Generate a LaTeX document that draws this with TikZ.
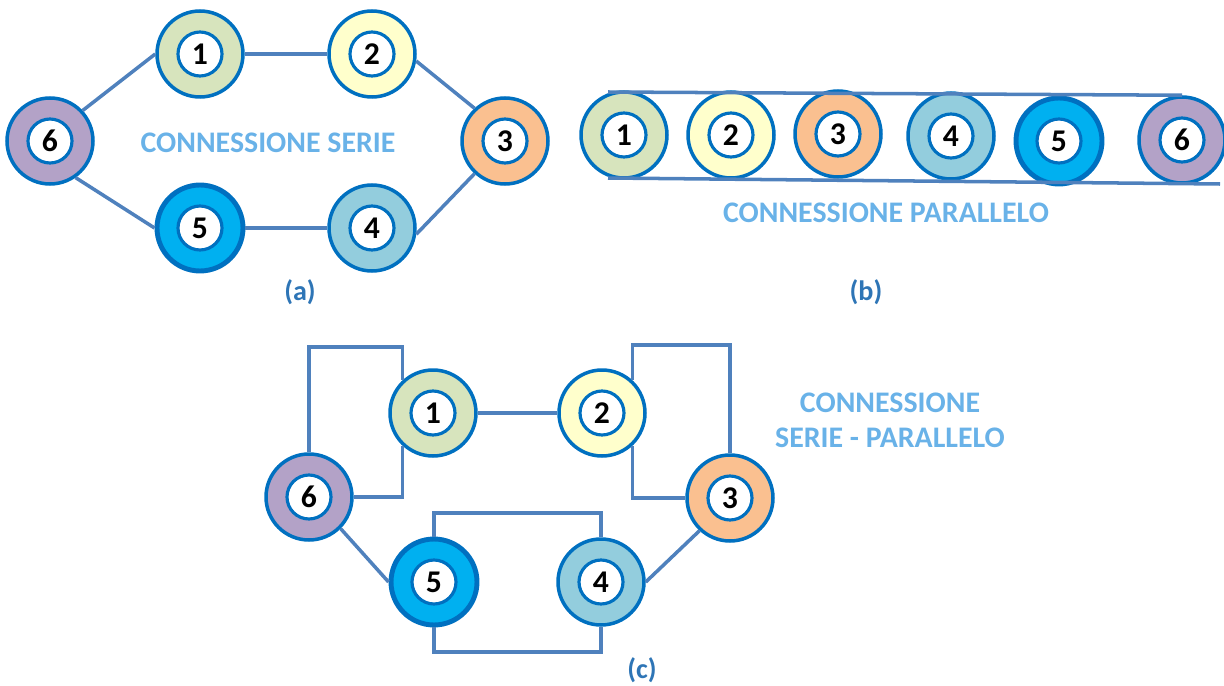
\documentclass[tikz,border=0pt]{standalone}
\usepackage{fontspec}
\setmainfont{Carlito}
\definecolor{ringblue}{RGB}{0,112,192}
\definecolor{wireblue}{RGB}{79,129,189}
\definecolor{labblue}{RGB}{46,117,182}
\definecolor{titleblue}{RGB}{105,178,232}
\definecolor{fone}{RGB}{215,228,189}
\definecolor{ftwo}{RGB}{255,255,204}
\definecolor{fthree}{RGB}{250,192,144}
\definecolor{ffour}{RGB}{147,205,221}
\definecolor{ffive}{RGB}{0,176,240}
\definecolor{fsix}{RGB}{179,162,199}
\tikzset{
  ring/.style={circle, draw=ringblue, line width=2pt, minimum size=1.72cm, inner sep=0pt},
  thickring/.style={line width=2.8pt},
  hub/.style={circle, draw=ringblue, fill=white, line width=1.8pt, minimum size=0.88cm, inner sep=0pt,
    font=\bfseries\fontsize{18}{18}\selectfont},
  wire/.style={draw=wireblue, line width=2pt},
  sublabel/.style={font=\bfseries\fontsize{16}{16}\selectfont, text=labblue},
  title/.style={font=\bfseries\fontsize{17}{20}\selectfont, text=titleblue, align=center}
}
\newcommand{\ringnode}[5][]{%
  \node[ring, fill=#4, #1] (#2) at (#3) {};
  \node[hub] (#2i) at (#3) {#5};}
\begin{document}
\begin{tikzpicture}[x=0.02cm, y=-0.02cm]
\useasboundingbox (0,0) rectangle (1224,686);
% ---------- (a) ----------
\ringnode{a1}{200,54}{fone}{1}
\ringnode{a2}{372,54}{ftwo}{2}
\ringnode{a3}{505,141}{fthree}{3}
\ringnode{a4}{372,228}{ffour}{4}
\ringnode[thickring]{a5}{200,228}{ffive}{5}
\ringnode{a6}{50,141}{fsix}{6}
\draw[wire] (a6.43) -- (a1.west);
\draw[wire] (a1.east) -- (a2.west);
\draw[wire] (a2.-9) -- (a3.133);
\draw[wire] (a3.227) -- (a4.-8);
\draw[wire] (a5.east) -- (a4.west);
\draw[wire] (a6.-55) -- (a5.west);
\node[title] (ta) at (268,143) {CONNESSIONE SERIE};
\node[sublabel] (la) at (300,292) {(a)};
% ---------- (b) ----------
\ringnode{b1}{624,135}{fone}{1}
\ringnode{b2}{731,135}{ftwo}{2}
\ringnode{b3}{838,134}{fthree}{3}
\ringnode{b4}{951,136}{ffour}{4}
\ringnode[thickring]{b5}{1059,141}{ffive}{5}
\ringnode{b6}{1182,140}{fsix}{6}
\coordinate (btl) at (608,92);
\coordinate (bbl) at (608,178);
\coordinate (bbr) at (1220,184);
\draw[wire] (btl) -- (b6.north);
\draw[wire] (bbl) -- (bbr);
\node[title] (tb) at (886,213) {CONNESSIONE PARALLELO};
\node[sublabel] (lb) at (866,292) {(b)};
% ---------- (c) ----------
\ringnode{c1}{433,413}{fone}{1}
\ringnode{c2}{602,413}{ftwo}{2}
\ringnode{c3}{730,498}{fthree}{3}
\ringnode{c4}{601,582}{ffour}{4}
\ringnode[thickring]{c5}{434,582}{ffive}{5}
\ringnode{c6}{309,497}{fsix}{6}
\coordinate (t61) at (0,347);
\coordinate (t23) at (0,345);
\coordinate (t54) at (0,513);
\coordinate (b54) at (0,652);
\draw[wire] (c6.north) |- (c1.133 |- t61) -- (c1.133);
\draw[wire] (c1.227) |- (c6.east);
\draw[wire] (c1.east) -- (c2.west);
\draw[wire] (c2.47) -- (c2.47 |- t23) -| (c3.north);
\draw[wire] (c2.313) |- (c3.west);
\draw[wire] (c3.227) -- (c4.east);
\draw[wire] (c5.north) -- (c5.north |- t54) -| (c4.north);
\draw[wire] (c5.south) -- (c5.south |- b54) -| (c4.south);
\draw[wire] (c6.-45) -- (c5.west);
\node[title] (tc) at (890,420) {CONNESSIONE\\SERIE - PARALLELO};
\node[sublabel] (lc) at (642,670) {(c)};
\end{tikzpicture}
\end{document}
